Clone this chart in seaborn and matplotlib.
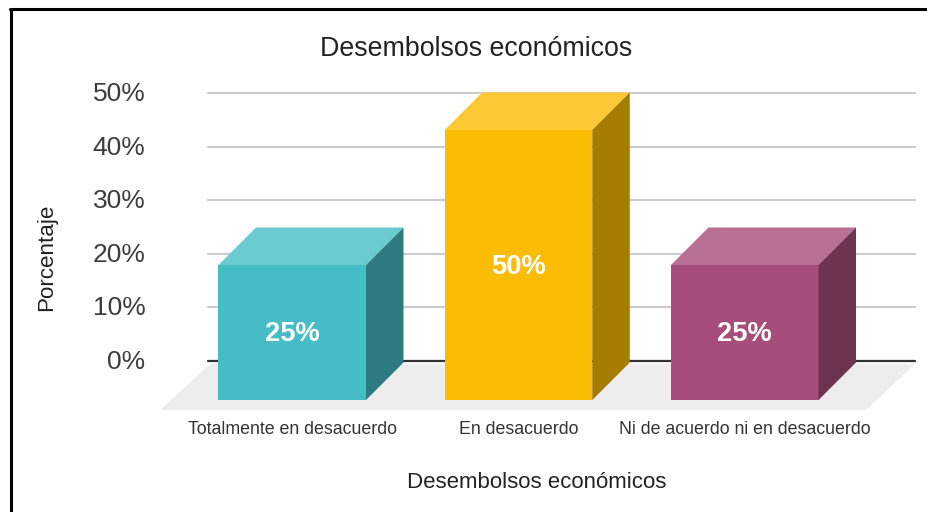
import matplotlib
matplotlib.use("Agg")
import matplotlib.pyplot as plt
from matplotlib.lines import Line2D
from matplotlib.patches import Polygon
from matplotlib.transforms import ScaledTranslation
import seaborn as sns

categories = ["Totalmente en desacuerdo", "En desacuerdo", "Ni de acuerdo ni en desacuerdo"]
values = [25, 50, 25]
y_ticks = [0, 10, 20, 30, 40, 50]
y_tick_labels = ["0%", "10%", "20%", "30%", "40%", "50%"]
front_colors = ["#46BDC6", "#FBBC04", "#A64D79"]
top_colors = ["#6CCAD1", "#FCC934", "#B86F94"]
side_colors = ["#2E7C82", "#A67C00", "#6E3350"]
title = "Desembolsos económicos"
x_label = "Desembolsos económicos"
y_label = "Porcentaje"

W, H = 928, 512
sns.set_theme(style="white")
plt.rcParams["font.family"] = ["Liberation Sans", "DejaVu Sans"]
fig = plt.figure(figsize=(W / 100, H / 100), dpi=100)


def box(l, t, r, b):
    return [l / W, 1 - b / H, (r - l) / W, (b - t) / H]


# back plane: gridlines and value axis
back = fig.add_axes(box(208, 93, 915, 361), zorder=0)
back.set_ylim(0, 50)
back.set_xlim(0, 1)
back.set_yticks(y_ticks)
back.set_yticklabels(y_tick_labels, fontsize=19, color="#3c3c3c")
back.set_xticks([])
back.tick_params(axis="y", length=0, pad=45)
back.grid(axis="y", color="#cccccc", linewidth=1.5, clip_on=False)
for line in back.get_ygridlines():
    line.set_clip_on(False)
back.set_axisbelow(True)
for s in back.spines.values():
    s.set_visible(False)
back.axhline(0, color="#333333", linewidth=1.6, clip_on=False, zorder=3)
shift = ScaledTranslation(0, 1.5 / 100, fig.dpi_scale_trans)
for lab in back.get_yticklabels():
    lab.set_transform(lab.get_transform() + shift)

# front plane: bars
PX = 5.4            # pixels per percentage point on the front plane
x0, x1 = 160, 868
front = fig.add_axes(box(x0, 80, x1, 410), zorder=1)
front.patch.set_alpha(0)
sns.barplot(x=categories, y=values, hue=categories, palette=front_colors, legend=False,
            width=0.652, saturation=1, ax=front, linewidth=0, zorder=3)
unit = 226.25
left = (x0 - 292.25) / unit
front.set_xlim(left, left + (x1 - x0) / unit)
front.set_ylim(-10 / PX, 320 / PX)
front.set_yticks([])
front.set_xlabel("")
front.set_ylabel("")
front.tick_params(axis="x", length=0, pad=8, labelsize=12.8, labelcolor="#333333")
for s in front.spines.values():
    s.set_visible(False)

dx = 37.5 / unit
dy = 37.5 / PX
hw = 0.652 / 2
floor = Polygon([(left, -10 / PX), (left + (866 - 160) / unit, -10 / PX),
                 (left + (915 - 160) / unit, 36 / PX), (left + (210 - 160) / unit, 36 / PX)],
                closed=True, facecolor="#EDEDED", edgecolor="none", clip_on=False, zorder=1)
front.add_patch(floor)

for i, v in enumerate(values):
    a, b = i - hw, i + hw
    front.add_patch(Polygon([(a, v), (b, v), (b + dx, v + dy), (a + dx, v + dy)], closed=True,
                            facecolor=top_colors[i], edgecolor="none", clip_on=False, zorder=3))
    front.add_patch(Polygon([(b, 0), (b, v), (b + dx, v + dy), (b + dx, dy)], closed=True,
                            facecolor=side_colors[i], edgecolor="none", clip_on=False, zorder=3))
    front.text(i, v / 2 - 0.3, f"{v}%", ha="center", va="center", color="white",
               fontsize=19.6, fontweight="bold", zorder=5)

# titles
fig.text(476 / W, 1 - 49 / H, title, ha="center", va="center", fontsize=19.3, color="#222222")
fig.text(537 / W, 1 - 482 / H, x_label, ha="center", va="center", fontsize=16, color="#222222")
fig.text(47 / W, 1 - 257 / H, y_label, ha="center", va="center", rotation=90, fontsize=16.1, color="#222222")

# outer frame of the screenshot
fig.add_artist(Line2D([11 / W, 11 / W], [0, 1 - 8.5 / H], color="black", linewidth=2.2))
fig.add_artist(Line2D([10 / W, 1], [1 - 9 / H, 1 - 9 / H], color="black", linewidth=2.2))

fig.savefig("out.png", dpi=100)
